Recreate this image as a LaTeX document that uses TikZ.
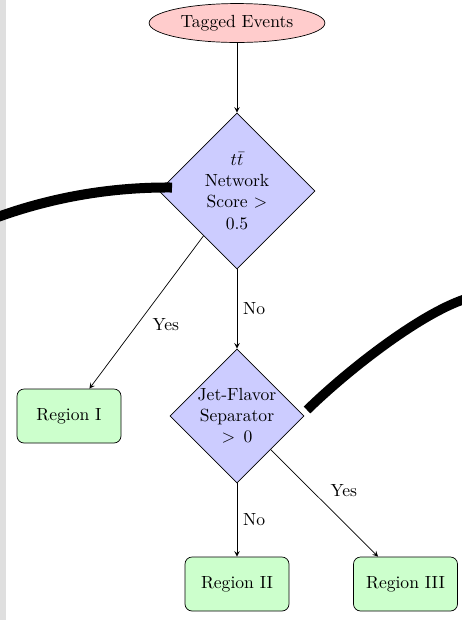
\documentclass[tikz,border=0pt]{standalone}
\usepackage{amsmath}
\usepackage{amssymb}
\usepackage{tikz}
\usetikzlibrary{shapes.geometric}
\definecolor{eventColor}{HTML}{FFCCCC}
\definecolor{cutColor}{HTML}{CCCCFF}
\definecolor{regionColor}{HTML}{CCFFCC}

\begin{document}
\begin{tikzpicture}[
    decision/.style={diamond, draw, fill=cutColor, text width=4.5em, align=center, inner sep=0pt},
    region/.style={rectangle, rounded corners, draw, fill=regionColor, minimum width=2.08cm, minimum height=1.08cm},
    flow/.style={->, >=stealth}]
          \useasboundingbox (0,0) rectangle (9.24,-12.4);
          \fill[gray!25] (0,0) rectangle (0.12,-12.4);

          \node[ellipse, draw, fill=eventColor] (events) at (4.74,-0.46) {Tagged Events};
          \node[decision] (ttbar) at (4.74,-3.82) {$t\bar{t}$\\Network\\Score $>$\\0.5};
          \node[decision] (flavor) at (4.74,-8.32) {Jet-Flavor\\Separator\\$>0$};

          \node[region] (regI) at (1.38,-8.32) {Region I};
          \node[region] (regII) at (4.74,-11.68) {Region II};
          \node[region] (regIII) at (8.11,-11.68) {Region III};

          \draw[flow] (events) -- (ttbar);
          \draw[flow] (ttbar) -- node[below right] {Yes} (regI);
          \draw[flow] (ttbar) -- node[right] {No} (flavor);
          \draw[flow] (flavor) -- node[above right] {Yes} (regIII);
          \draw[flow] (flavor) -- node[right] {No} (regII);

          % heavy strokes over the diamonds
          \draw[line width=0.2cm] (-0.1,-4.36) .. controls (1.1,-3.92) and (2.3,-3.74) .. (3.44,-3.75);
          \draw[line width=0.19cm] (6.14,-8.2) .. controls (7.0,-7.36) and (8.5,-6.2) .. (9.4,-5.95);
        \end{tikzpicture}
\end{document}
